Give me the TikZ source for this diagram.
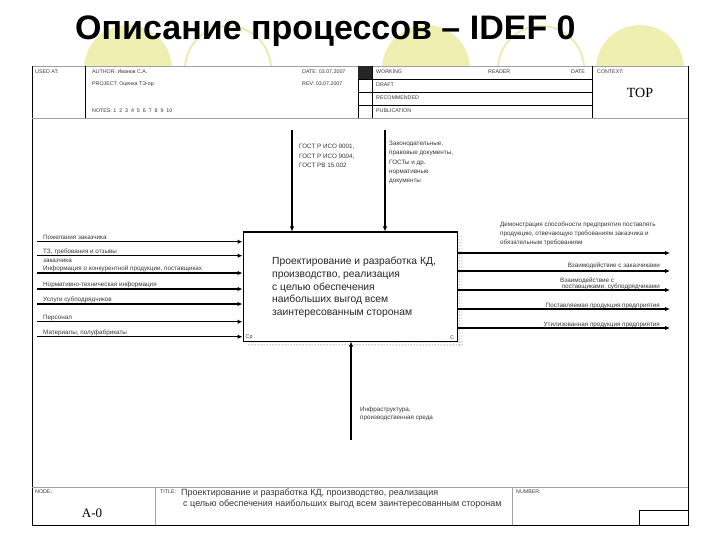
\documentclass[tikz,border=0pt]{standalone}
\usepackage{fontspec}
\setmainfont{Liberation Sans}
\newfontfamily\serifA{Liberation Serif}
\usetikzlibrary{arrows.meta,positioning,patterns}
\definecolor{paleyellow}{RGB}{239,239,178}
\definecolor{ringyellow}{RGB}{234,236,182}
\definecolor{framegray}{RGB}{160,160,160}
\definecolor{inkgray}{RGB}{55,55,55}
\tikzset{
  lbl/.style={font=\fontsize{6.3}{7.6}\selectfont,inner sep=0pt,anchor=base west,text=inkgray,align=left},
  rlbl/.style={lbl,anchor=base east,align=right},
  hdr/.style={font=\fontsize{5.3}{6}\selectfont,inner sep=0pt,anchor=base west,text=inkgray},
  arr/.style={-{Latex[length=5pt,width=4.5pt]},line width=1.1pt},
  func/.style={draw,line width=1pt,fill=white,minimum width=214pt,minimum height=109pt,inner sep=0pt},
  boxtxt/.style={font=\fontsize{10.3}{12.7}\selectfont,inner sep=0pt,align=left,text=black!85},
  rule/.style={draw=framegray,line width=0.6pt},
  edge/.style={draw=black,line width=0.9pt}
}
\begin{document}
\begin{tikzpicture}[x=1pt,y=-1pt]
\useasboundingbox (0,0) rectangle (720,540);
% circles behind the title
\fill[paleyellow] (128,69) circle (44pt);
\draw[ringyellow,line width=2pt] (228,69) circle (43pt);
\fill[paleyellow] (426,69) circle (44pt);
\draw[ringyellow,line width=2pt] (541,69) circle (43pt);
\fill[paleyellow] (640,69) circle (44pt);
\node[font=\fontsize{34}{38}\selectfont\bfseries,inner sep=0pt,anchor=base west] (title) at (75,40) {Описание процессов – IDEF 0};

% frame
\fill[white] (32,66) rectangle (688,525);
\draw[rule] (32,66) -- (688,66);
\draw[edge] (32,66) -- (32,525) -- (688,525) -- (688,66);
\draw[rule] (32,118) -- (688,118);
\draw[rule] (32,487) -- (688,487);
\draw[edge] (85,66) -- (85,118);
\draw[edge] (358,66) -- (358,118);
\draw[edge] (372,66) -- (372,118);
\draw[edge] (592,66) -- (592,118);
\fill[black!85] (358,66) rectangle (372,79);
\foreach \yy in {79,92,105} \draw[edge] (358,\yy) -- (592,\yy);
\draw[rule] (155,487) -- (155,525);
\draw[rule] (512,487) -- (512,525);
\draw[edge] (639,525) -- (639,510) -- (688,510);

% header
\node[hdr] (usedat) at (35,74) {USED AT:};
\node[hdr] (author) at (92,74) {AUTHOR: Иванов С.А.};
\node[hdr] (project) at (92,86) {PROJECT: Оценка ТЭ-ор};
\node[hdr] (date) at (302,74) {DATE: 03.07.2007};
\node[hdr] (rev) at (302,86) {REV: 03.07.2007};
\node[hdr] (notes) at (92,113) {NOTES: 1\ \ 2\ \ 3\ \ 4\ \ 5\ \ 6\ \ 7\ \ 8\ \ 9\ \ 10};
\node[hdr] (working) at (376,74) {WORKING};
\node[hdr] (draft) at (376,87) {DRAFT};
\node[hdr] (recom) at (376,100) {RECOMMENDED};
\node[hdr] (publ) at (376,113) {PUBLICATION};
\node[hdr] (reader) at (488,74) {READER};
\node[hdr] (rdate) at (571,74) {DATE};
\node[hdr] (context) at (597,74) {CONTEXT:};
\node[font=\serifA\fontsize{14}{14}\selectfont,inner sep=0pt] (top) at (640,93) {TOP};

% footer
\node[hdr] (nodefld) at (35,493) {NODE:};
\node[font=\serifA\fontsize{13}{13}\selectfont,inner sep=0pt] (nodeid) at (92,513) {A-0};
\node[hdr] (titlefld) at (160,493) {TITLE:};
\node[font=\fontsize{9}{10.5}\selectfont,inner sep=0pt,anchor=north west,align=left,text=inkgray] (titletxt) at (181,489)
  {Проектирование и разработка КД, производство, реализация\\ \hspace*{2pt}с целью обеспечения наибольших выгод всем заинтересованным сторонам};
\node[hdr] (number) at (516,493) {NUMBER:};

% function box
\fill[pattern=dots,pattern color=black!70] (457,236) rectangle (462,345);
\fill[pattern=dots,pattern color=black!70] (247,341) rectangle (462,345);
\node[func] (fn) at (350,286.5) {};
\node[boxtxt,anchor=north west] (fntxt) at (272,257)
  {Проектирование и разработка КД,\\ производство, реализация\\ с целью обеспечения\\ наибольших выгод всем\\ заинтересованным сторонам};
\node[hdr,anchor=south west] (cp) at ([xshift=3pt,yshift=2pt]fn.south west) {Ср};
\node[hdr,anchor=south east] (cc) at ([xshift=-3pt,yshift=2pt]fn.south east) {С};

% inputs
\coordinate (in1) at (37,241.7);
\coordinate (in2) at (37,255.7);
\coordinate (in3) at (37,273);
\coordinate (in4) at (37,289);
\coordinate (in5) at (37,304);
\coordinate (in6) at (37,321.7);
\coordinate (in7) at (37,336.7);
\foreach \k in {1,...,7} \draw[arr] (in\k) -- (in\k -| fn.west);
\node[lbl] (in1l) at ([xshift=6pt,yshift=2.5pt]in1) {Пожелания заказчика};
\node[lbl] (in2l) at ([xshift=6pt,yshift=2.5pt]in2) {ТЗ, требования и отзывы};
\node[lbl] (in2m) at ([xshift=6pt,yshift=-6.5pt]in2) {заказчика};
\node[lbl] (in3l) at ([xshift=6pt,yshift=2.5pt]in3) {Информация о конкурентной продукции, поставщиках};
\node[lbl] (in4l) at ([xshift=6pt,yshift=2.5pt]in4) {Нормативно-техническая информация};
\node[lbl] (in5l) at ([xshift=6pt,yshift=2.5pt]in5) {Услуги субподрядчиков};
\node[lbl] (in6l) at ([xshift=6pt,yshift=2.5pt]in6) {Персонал};
\node[lbl] (in7l) at ([xshift=6pt,yshift=2.5pt]in7) {Материалы, полуфабрикаты};

% controls
\coordinate (ct1) at (292,130);
\coordinate (ct2) at (385,130);
\draw[arr] (ct1) -- (ct1 |- fn.north);
\draw[arr] (ct2) -- (ct2 |- fn.north);
\node[lbl,anchor=north west,font=\fontsize{6.3}{9.6}\selectfont] (ct1l) at (299,144) {ГОСТ Р ИСО 9001,\\ ГОСТ Р ИСО 9004,\\ ГОСТ РВ 15.002};
\node[lbl,anchor=north west,font=\fontsize{6.3}{9.3}\selectfont] (ct2l) at (389,141) {Законодательные,\\ правовые документы,\\ ГОСТы и др.\\ нормативные\\ документы};

% outputs
\coordinate (out1) at (670,253);
\coordinate (out2) at (670,271);
\coordinate (out3) at (670,290);
\coordinate (out4) at (670,309);
\coordinate (out5) at (670,328);
\foreach \k in {1,...,5} \draw[arr] (out\k -| fn.east) -- (out\k);
\node[lbl,anchor=north west,font=\fontsize{6.3}{8.6}\selectfont] (out1l) at (500,222) {Демонстрация способности предприятия поставлять\\ продукцию, отвечающую требованиям заказчика и\\ обязательным требованиям};
\node[rlbl] (out2l) at ([xshift=-10pt,yshift=3.5pt]out2) {Взаимодействие с заказчиками};
\node[lbl] (out3m) at (560,282) {Взаимодействие с};
\node[rlbl] (out3l) at ([xshift=-10pt,yshift=1.5pt]out3) {поставщиками, субподрядчиками};
\node[rlbl] (out4l) at ([xshift=-10pt,yshift=1.5pt]out4) {Поставляемая продукция предприятия};
\node[rlbl] (out5l) at ([xshift=-10pt,yshift=1.5pt]out5) {Утилизованная продукция предприятия};

% mechanism
\coordinate (mc1) at (351,440);
\draw[arr] (mc1) -- (mc1 |- fn.south);
\node[lbl,anchor=north west,font=\fontsize{6.3}{8}\selectfont] (mc1l) at (360,407) {Инфраструктура,\\ производственная среда};
\end{tikzpicture}
\end{document}
